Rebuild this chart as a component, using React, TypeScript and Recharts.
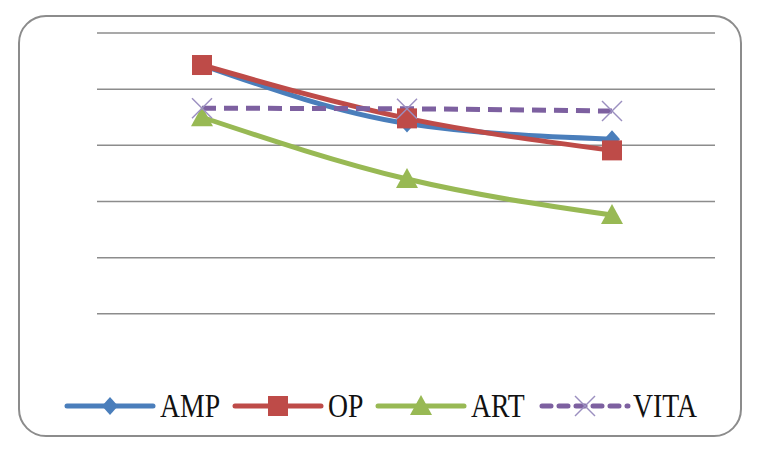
import React from 'react'
import { LineChart, Line, XAxis, YAxis, ReferenceLine } from 'recharts'

const categories = ['A', 'B', 'C']
const ampValues = [5.43, 4.39, 4.11]
const opValues = [5.43, 4.48, 3.91]
const artValues = [4.5, 3.4, 2.76]
const vitaValues = [4.66, 4.65, 4.61]
const gridValues = [1, 2, 3, 4, 5, 6]

const seriesList = [
  { key: 'AMP', values: ampValues, color: '#4a7ebb', marker: 'diamond', dash: undefined },
  { key: 'OP', values: opValues, color: '#be4b48', marker: 'square', dash: undefined },
  { key: 'ART', values: artValues, color: '#98b954', marker: 'triangle', dash: undefined },
  { key: 'VITA', values: vitaValues, color: '#7d60a0', marker: 'x', dash: '14 8' },
]

// legend item placement (icon left, text left)
const legendSlots = [
  [67, 160],
  [235, 328],
  [378, 471],
  [542, 633],
]

const data = categories.map((c, i) => {
  const row: Record<string, any> = { cat: c }
  seriesList.forEach((s) => (row[s.key] = s.values[i]))
  return row
})

// marker shape centred at cx, cy
const Marker = ({ kind, cx, cy, color }: { kind: string; cx: number; cy: number; color: string }) => {
  if (kind === 'diamond')
    return <path d={`M${cx},${cy - 9} L${cx + 8},${cy} L${cx},${cy + 9} L${cx - 8},${cy} Z`} fill={color} />
  if (kind === 'square') return <rect x={cx - 10} y={cy - 10} width={20} height={20} fill={color} />
  if (kind === 'triangle')
    return <path d={`M${cx},${cy - 11} L${cx + 11},${cy + 9} L${cx - 11},${cy + 9} Z`} fill={color} />
  return (
    <g stroke="#9b8fc0" strokeWidth={1.5}>
      <line x1={cx - 10} y1={cy - 10} x2={cx + 10} y2={cy + 10} />
      <line x1={cx + 10} y1={cy - 10} x2={cx - 10} y2={cy + 10} />
    </g>
  )
}

const LegendIcon = ({ s }: { s: (typeof seriesList)[number] }) => (
  <svg width={92} height={30} style={{ display: 'block' }}>
    <line
      x1={3}
      y1={15}
      x2={89}
      y2={15}
      stroke={s.color}
      strokeWidth={5}
      strokeLinecap="round"
      strokeDasharray={s.dash ? '9 8' : undefined}
    />
    <Marker kind={s.marker} cx={46} cy={15} color={s.color} />
  </svg>
)

export default function App() {
  return (
    <div style={{ position: 'relative', width: 758, height: 457, margin: '-8px 0 0 -8px', background: '#fff' }}>
      <div
        style={{
          position: 'absolute',
          left: 18,
          top: 15,
          width: 720,
          height: 418,
          border: '2px solid #8c8c8c',
          borderRadius: 28,
        }}
      />
      <div style={{ position: 'absolute', left: 0, top: 0 }}>
        <LineChart width={758} height={457} data={data} margin={{ top: 33, right: 43, bottom: 87, left: 97 }}>
          <XAxis dataKey="cat" hide padding={{ left: 105, right: 103 }} />
          <YAxis hide domain={[0, 6]} ticks={gridValues} />
          {gridValues.map((v) => (
            <ReferenceLine key={v} y={v} stroke="#8c8c8c" strokeWidth={1.5} />
          ))}
          {seriesList.map((s) => (
            <Line
              key={s.key}
              dataKey={s.key}
              type="monotone"
              stroke={s.color}
              strokeWidth={5}
              strokeDasharray={s.dash}
              isAnimationActive={false}
              dot={(p: any) => <Marker key={`${s.key}-${p.index}`} kind={s.marker} cx={p.cx} cy={p.cy} color={s.color} />}
              activeDot={false}
            />
          ))}
        </LineChart>
      </div>
      {seriesList.map((s, i) => (
        <React.Fragment key={s.key}>
          <div style={{ position: 'absolute', left: legendSlots[i][0] - 3, top: 391 }}>
            <LegendIcon s={s} />
          </div>
          <div
            style={{
              position: 'absolute',
              left: legendSlots[i][1],
              top: 387,
              fontFamily: '"Liberation Serif", serif',
              fontSize: 33,
              lineHeight: '38px',
              color: '#111',
              whiteSpace: 'nowrap',
              transform: 'scaleX(0.84)',
              transformOrigin: 'left center',
            }}
          >
            {s.key}
          </div>
        </React.Fragment>
      ))}
    </div>
  )
}
